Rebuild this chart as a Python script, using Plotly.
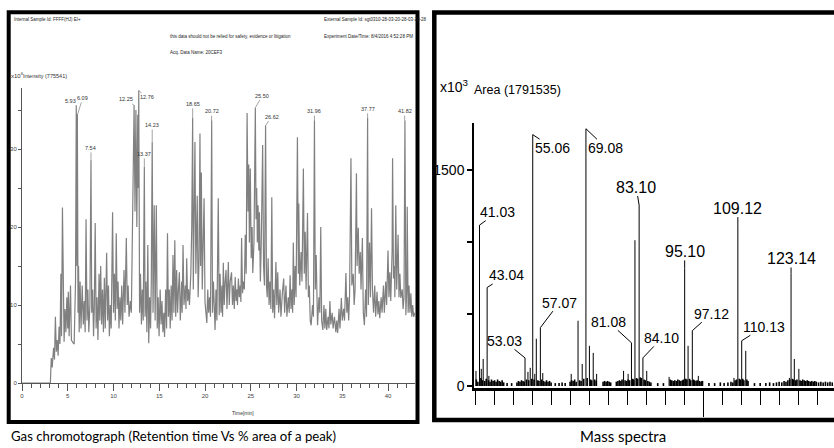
import plotly.graph_objects as go

W, H = 834, 448


def fx(p):
    return p / W


def fy(p):
    return 1 - p / H


# ---------------- Gas chromatogram (retention time, intensity x10^6) ----------------
rt = [
    0.0, 3.1, 3.2, 3.3, 3.45, 3.55, 3.65, 3.75, 3.85, 3.95,
    4.05, 4.15, 4.25, 4.32, 4.42, 4.52, 4.6, 4.7, 4.8, 4.9,
    5.0, 5.06, 5.15, 5.3, 5.4, 5.55, 5.7, 5.85, 5.93, 6.0,
    6.05, 6.12, 6.18, 6.25, 6.35, 6.45, 6.58, 6.7, 6.8, 6.9,
    7.0, 7.1, 7.2, 7.3, 7.42, 7.54, 7.62, 7.72, 7.82, 7.9,
    8.0, 8.1, 8.2, 8.3, 8.42, 8.5, 8.6, 8.7, 8.8, 8.9,
    9.0, 9.1, 9.25, 9.35, 9.45, 9.55, 9.65, 9.75, 9.9,
    10.0, 10.1, 10.2, 10.3, 10.4, 10.5, 10.6, 10.7, 10.8, 10.9,
    11.0, 11.15, 11.25, 11.4, 11.5, 11.6, 11.7, 11.85, 11.95,
    12.05, 12.15, 12.25, 12.35, 12.45, 12.55, 12.65, 12.7, 12.76, 12.85, 12.95,
    13.05, 13.15, 13.25, 13.37, 13.45, 13.55, 13.65, 13.75, 13.85, 13.95,
    14.05, 14.13, 14.23, 14.32, 14.45, 14.55, 14.68, 14.78, 14.88, 14.98,
    15.1, 15.2, 15.3, 15.4, 15.5, 15.58, 15.7, 15.8, 15.9,
    16.0, 16.1, 16.2, 16.3, 16.4, 16.5, 16.6, 16.7, 16.8, 16.9,
    17.0, 17.1, 17.2, 17.3, 17.45, 17.5, 17.6, 17.7, 17.85, 17.92,
    18.0, 18.1, 18.2, 18.3, 18.45, 18.55, 18.65, 18.72, 18.8, 18.9,
    19.0, 19.15, 19.25, 19.35, 19.45, 19.52, 19.6, 19.7, 19.8, 19.9,
    20.0, 20.1, 20.2, 20.3, 20.4, 20.5, 20.6, 20.73, 20.82, 20.92,
    21.0, 21.1, 21.2, 21.3, 21.45, 21.55, 21.65, 21.75, 21.85, 21.92,
    22.0, 22.1, 22.2, 22.3, 22.4, 22.55, 22.65, 22.75, 22.9,
    23.0, 23.1, 23.2, 23.3, 23.4, 23.5, 23.55, 23.65, 23.75, 23.85, 23.92,
    24.0, 24.1, 24.2, 24.3, 24.4, 24.5, 24.6, 24.7, 24.78, 24.85, 24.95,
    25.05, 25.15, 25.22, 25.35, 25.5, 25.58, 25.65, 25.72, 25.8, 25.88, 25.95,
    26.05, 26.15, 26.3, 26.4, 26.5, 26.62, 26.72, 26.8, 26.9,
    27.0, 27.1, 27.2, 27.3, 27.4, 27.5, 27.6, 27.75, 27.85, 27.95,
    28.05, 28.2, 28.3, 28.45, 28.6, 28.7, 28.85, 28.95,
    29.1, 29.2, 29.3, 29.4, 29.5, 29.58, 29.65, 29.75, 29.85, 29.95,
    30.1, 30.2, 30.25, 30.35, 30.5, 30.6, 30.75, 30.85, 30.95,
    31.05, 31.2, 31.3, 31.4, 31.5, 31.6, 31.75, 31.85, 31.96,
    32.05, 32.15, 32.3, 32.45, 32.55, 32.65, 32.75, 32.88,
    33.0, 33.1, 33.2, 33.3, 33.45, 33.55, 33.65, 33.75, 33.9,
    34.0, 34.15, 34.3, 34.4, 34.5, 34.65, 34.75, 34.9,
    35.0, 35.15, 35.25, 35.4, 35.5, 35.6, 35.7, 35.8, 35.95,
    36.05, 36.2, 36.3, 36.4, 36.55, 36.62, 36.75, 36.85, 36.97,
    37.05, 37.2, 37.3, 37.42, 37.55, 37.65, 37.77, 37.85, 37.98,
    38.08, 38.2, 38.3, 38.42, 38.55, 38.65, 38.8, 38.9,
    39.0, 39.1, 39.25, 39.35, 39.5, 39.6, 39.75, 39.85,
    40.0, 40.1, 40.2, 40.3, 40.45, 40.5, 40.6, 40.7, 40.75, 40.85, 40.95,
    41.1, 41.2, 41.3, 41.4, 41.55, 41.65, 41.75, 41.85, 41.95,
    42.05, 42.1, 42.2, 42.3, 42.4, 42.5, 42.6, 42.7, 42.8, 42.95,
]
intensity = [
    0, 0, 3.2, 2.0, 4.5, 3.0, 8.5, 4.0, 5.5, 3.5,
    7.2, 5.0, 14.0, 6.0, 22.5, 8.0, 5.3, 9.5, 6.5, 11.0,
    7.0, 11.7, 6.0, 12.5, 5.5, 5.2, 5.0, 13.0, 35.6, 15.0,
    34.5, 9.0, 15.0, 6.5, 13.0, 7.0, 12.5, 7.5, 10.5, 6.5,
    21.0, 8.0, 12.0, 6.5, 10.0, 28.6, 9.0, 12.0, 6.0, 9.5,
    20.5, 7.0, 11.0, 5.5, 14.0, 8.0, 15.0, 7.5, 12.0, 6.5,
    13.5, 7.0, 16.7, 8.0, 12.5, 6.0, 10.0, 7.0, 21.9,
    9.0, 14.0, 8.0, 19.2, 9.5, 13.0, 7.0, 11.0, 8.0, 12.5,
    7.5, 14.5, 9.0, 18.6, 10.0, 12.5, 8.5, 10.5, 9.0,
    17.0, 25.0, 35.6, 22.0, 35.0, 20.0, 34.4, 25.0, 37.5, 9.0, 14.0,
    7.5, 12.0, 8.0, 27.7, 8.5, 13.0, 6.5, 17.7, 5.1, 11.0,
    7.0, 13.0, 30.9, 9.0, 22.8, 8.0, 22.8, 7.0, 11.0, 6.0,
    12.0, 7.5, 10.5, 6.5, 9.0, 5.9, 12.0, 7.0, 19.2,
    8.5, 12.0, 7.0, 12.5, 8.0, 16.4, 9.0, 18.3, 8.5, 14.5,
    9.0, 12.0, 14.2, 8.0, 13.0, 9.0, 17.7, 10.0, 12.5, 9.5,
    16.0, 10.5, 12.0, 10.0, 14.0, 20.0, 34.0, 12.0, 22.0, 30.9,
    14.0, 24.0, 11.0, 16.0, 32.0, 15.0, 27.0, 12.0, 18.0, 23.7,
    10.4, 9.0, 7.7, 12.0, 9.0, 11.0, 8.5, 33.7, 9.0, 13.0,
    8.0, 6.8, 12.0, 8.0, 23.7, 8.7, 14.0, 9.0, 12.5, 8.5,
    15.4, 10.0, 13.0, 14.5, 9.5, 15.5, 10.0, 13.0, 14.2,
    10.0, 12.5, 9.5, 13.6, 10.5, 12.0, 10.0, 13.4, 11.0, 12.5, 10.4,
    18.6, 11.5, 13.0, 12.0, 19.0, 14.0, 34.6, 22.0, 28.0, 18.0, 27.5,
    16.0, 20.0, 14.1, 18.0, 35.3, 21.0, 25.0, 18.0, 22.8, 17.0, 21.9,
    13.0, 18.0, 30.5, 15.0, 12.5, 33.0, 12.5, 11.0, 16.0,
    10.0, 13.0, 9.5, 23.8, 9.0, 12.0, 8.3, 15.5, 10.0, 14.2,
    9.0, 12.0, 8.5, 11.5, 13.4, 9.0, 12.5, 8.5,
    11.0, 9.0, 13.8, 9.5, 12.0, 9.0, 18.0, 10.0, 15.0, 11.0,
    31.5, 14.0, 23.0, 12.5, 16.8, 13.0, 27.5, 14.0, 19.4,
    12.0, 21.8, 11.0, 12.5, 8.0, 7.4, 10.0, 8.5, 33.7,
    12.0, 16.4, 7.4, 11.0, 9.0, 20.0, 8.0, 6.8,
    10.0, 7.0, 9.5, 6.8, 8.5, 7.0, 10.5, 7.5, 9.0,
    7.0, 8.5, 6.5, 8.0, 6.4, 9.5, 7.0, 10.9,
    8.0, 9.5, 8.0, 14.1, 9.0, 11.0, 8.0, 11.3, 28.8,
    12.5, 14.0, 10.0, 12.0, 26.9, 15.0, 19.9, 14.0, 16.8,
    12.0, 18.6, 9.0, 7.4, 12.0, 8.5, 34.0, 10.0, 18.0,
    11.0, 22.4, 12.0, 9.0, 12.5, 8.5, 11.7, 8.8,
    10.5, 8.3, 11.0, 9.0, 12.5, 9.0, 13.0, 10.0,
    17.0, 11.0, 14.2, 10.5, 17.0, 28.8, 13.4, 15.0, 11.0, 22.8, 12.0,
    19.0, 11.0, 14.0, 10.9, 12.0, 9.5, 11.0, 33.7, 8.7,
    12.0, 22.6, 9.0, 12.5, 9.0, 11.5, 8.5, 10.0, 8.5, 9.0,
]

gc_label_rt = [5.93, 6.09, 7.54, 12.25, 12.76, 13.37, 14.23, 18.65, 20.72,
               25.50, 26.62, 31.96, 37.77, 41.82]
gc_label_text = ["5.93", "6.09", "7.54", "12.25", "12.76", "13.37", "14.23", "18.65",
                 "20.72", "25.50", "26.62", "31.96", "37.77", "41.82"]
# pixel offsets of each label from its peak (style only)
gc_label_off = [(-6, -4), (5, -16), (0, -12), (-8, -6), (8, 7), (0, -13), (0, -17),
                (0, -14), (0, -9), (7, -12), (6, -9), (0, -9), (0, -9), (0, -9)]

gc_x_ticks = [0, 5, 10, 15, 20, 25, 30, 35, 40]
gc_y_ticks = [0, 10, 20, 30]

# ---------------- Mass spectrum (m/z, area x10^3) ----------------
ms_peak_mz = [40.1, 41.03, 41.5, 42.0, 43.04, 43.5, 53.03, 53.8, 54.4, 55.06, 55.6, 56.0,
              57.07, 57.7, 65.2, 67.0, 68.1, 69.08, 70.0, 71.0, 71.9, 79.0, 80.2, 81.08,
              82.0, 83.10, 84.10, 85.1, 91.0, 95.10, 96.0, 97.12, 98.7, 99.6, 108.1,
              109.12, 110.13, 111.2, 122.7, 123.14, 124.0, 125.2]
ms_peak_area = [105, 1117, 119, 188, 684, 70, 195, 98, 126, 1745, 84, 328,
                405, 90, 84, 453, 153, 1786, 279, 230, 84, 105, 84, 300,
                1012, 1256, 195, 105, 63, 816, 279, 384, 70, 35, 56,
                1117, 314, 244, 56, 781, 188, 119]

ms_noise_mz = (
    [40.2, 40.6, 41.4, 41.8, 42.4, 42.8, 43.4, 43.8, 44.2, 44.6, 45.0, 45.4, 45.8, 46.2,
     46.6, 47.0, 47.4, 48.3, 49.5]
    + [50.9, 51.3, 51.7, 52.1, 52.5, 52.8, 53.4, 54.0, 54.8, 55.4, 56.4, 56.7, 57.4, 57.9,
       58.3, 58.7, 59.1, 59.5, 59.9]
    + [61.0, 62.0, 62.8, 63.6, 64.9, 65.3, 65.7, 66.1, 66.5, 67.4, 67.8, 68.5, 69.4, 70.3,
       70.6, 71.4, 71.8]
    + [73.6, 74.0, 74.4, 74.8, 75.2, 75.6, 77.1, 77.5, 77.9, 78.3, 78.6, 79.4, 79.8, 80.2,
       80.6, 81.4, 81.7, 82.4, 82.7, 83.4, 83.7, 84.4, 84.7, 85.4, 85.8, 86.2]
    + [88.0, 89.5, 91.3, 91.7, 92.1, 92.5, 92.9, 93.3, 93.7, 94.1, 94.5, 94.8, 95.4, 95.7,
       96.4, 96.7, 97.4, 97.7, 98.1, 98.4, 99.0, 99.4, 99.8]
    + [101.5, 103.0, 104.5, 105.5, 106.5, 107.3, 107.8, 108.4, 108.8, 109.5, 109.8, 110.4,
       110.7, 111.5, 111.8]
    + [113.5, 115.0, 116.5, 117.5, 118.5, 119.3, 120.0, 120.7, 121.3, 121.8, 122.3, 122.8,
       123.5, 123.8, 124.4, 124.7, 125.5, 125.8, 126.2, 126.6, 127.0, 127.4, 127.8, 128.2,
       128.6, 129.0, 129.4, 129.8, 130.4, 131.0, 131.6, 132.2, 132.8, 133.4, 134.0]
)
ms_noise_area = (
    [45, 30, 55, 40, 35, 50, 40, 30, 45, 35, 40, 30, 45, 35, 30, 40, 25, 20, 20]
    + [25, 35, 30, 40, 35, 30, 45, 40, 50, 45, 40, 35, 45, 35, 30, 40, 30, 35, 25]
    + [20, 20, 25, 20, 30, 40, 35, 45, 30, 40, 35, 50, 55, 45, 40, 45, 35]
    + [30, 35, 30, 35, 30, 25, 30, 35, 40, 35, 45, 40, 35, 45, 40, 50, 45, 55, 50, 60,
       55, 45, 40, 35, 30, 25]
    + [20, 20, 45, 40, 35, 40, 35, 45, 40, 35, 40, 45, 50, 45, 50, 40, 45, 40, 35, 40,
       35, 30, 35]
    + [20, 20, 25, 20, 25, 30, 25, 40, 45, 50, 45, 50, 40, 45, 35]
    + [20, 20, 20, 25, 20, 25, 30, 25, 35, 30, 40, 45, 50, 45, 40, 45, 40, 35, 45, 40,
       35, 40, 35, 30, 35, 30, 35, 30, 25, 30, 25, 30, 25, 30, 25]
)

ms_label_mz = [41.03, 43.04, 53.03, 55.06, 57.07, 69.08, 81.08, 83.10, 84.10, 95.10,
               97.12, 109.12, 110.13, 123.14]
# label offsets (px) and sizes: style only
ms_label_off = [(18, -13), (19, -12), (-21, -17), (20, 13), (19, -25), (20, 19), (-23, -21),
                (-3, -18), (19, -20), (0, -17), (19, -17), (0, -17), (22, -14), (0, -15)]
ms_label_big = [False, False, False, False, False, False, False, True, False, True,
                False, True, False, True]
ms_y_labelled = [0, 1500]
ms_y_unlabelled = [500, 1000]

SANS = "Liberation Sans, Arial, sans-serif"

fig = go.Figure()

fig.add_trace(go.Scatter(x=rt, y=intensity, mode="lines",
                         line=dict(color="#808080", width=1.2),
                         xaxis="x", yaxis="y", hoverinfo="skip"))


def sticks(mz, h):
    xs, ys = [], []
    for m, v in zip(mz, h):
        xs += [m, m, None]
        ys += [0, v, None]
    return xs, ys


nx, ny = sticks(ms_noise_mz, ms_noise_area)
fig.add_trace(go.Scatter(x=nx, y=ny, mode="lines", line=dict(color="black", width=1.6),
                         xaxis="x2", yaxis="y2", hoverinfo="skip"))
sx, sy = sticks(ms_peak_mz, ms_peak_area)
fig.add_trace(go.Scatter(x=sx, y=sy, mode="lines", line=dict(color="black", width=1),
                         xaxis="x2", yaxis="y2", hoverinfo="skip"))

annotations = []

# chromatogram peak labels
for t, txt, (ax, ay) in zip(gc_label_rt, gc_label_text, gc_label_off):
    near = [v for r, v in zip(rt, intensity) if abs(r - t) <= 0.06]
    h = max(near) if near else 0
    annotations.append(dict(x=t, y=h, xref="x", yref="y", text=txt, showarrow=True,
                            arrowhead=0, arrowwidth=0.6, arrowcolor="#666", ax=ax, ay=ay,
                            standoff=0, font=dict(size=5.5, color="#333", family=SANS)))

# mass spectrum peak labels
for m, (ax, ay), big in zip(ms_label_mz, ms_label_off, ms_label_big):
    h = max(v for mm, v in zip(ms_peak_mz, ms_peak_area) if abs(mm - m) < 0.01)
    annotations.append(dict(x=m, y=h, xref="x2", yref="y2", text=f"{m:.2f}", showarrow=True,
                            arrowhead=0, arrowwidth=1, arrowcolor="black", ax=ax, ay=ay,
                            standoff=0, borderpad=0,
                            font=dict(size=16 if big else 14, color="black", family=SANS)))

small = dict(size=4.5, color="#222", family=SANS)
header = [
    (12, 20, "Internal Sample Id: FFFF(HJ) EI+"),
    (168, 36, "this data should not be relied for safety, evidence or litigation"),
    (168, 52, "Acq. Data Name: 20CEF3"),
    (322, 20, "External Sample Id: sgt0310-28-03-20-28-03-20-28"),
    (322, 36, "Experiment Date/Time: 8/4/2016 4:52:28 PM"),
]
for x0, y0, txt in header:
    annotations.append(dict(x=fx(x0), y=fy(y0), xref="paper", yref="paper", text=txt,
                            showarrow=False, xanchor="left", yanchor="middle", font=small))

annotations += [
    dict(x=fx(9), y=fy(75), xref="paper", yref="paper", text="x10<sup>6</sup>", showarrow=False,
         xanchor="left", yanchor="middle", font=dict(size=6, color="#333", family=SANS)),
    dict(x=fx(21), y=fy(76), xref="paper", yref="paper", text="Intensity (775541)",
         showarrow=False, xanchor="left", yanchor="middle",
         font=dict(size=5.5, color="#333", family=SANS)),
    dict(x=fx(243), y=fy(413), xref="paper", yref="paper", text="Time[min]", showarrow=False,
         xanchor="center", yanchor="middle", font=dict(size=5, color="#333", family=SANS)),
    dict(x=fx(438), y=fy(86), xref="paper", yref="paper", text="x10<sup>3</sup>",
         showarrow=False, xanchor="left", yanchor="middle",
         font=dict(size=14, color="black", family=SANS)),
    dict(x=fx(472), y=fy(90), xref="paper", yref="paper", text="Area (1791535)",
         showarrow=False, xanchor="left", yanchor="middle",
         font=dict(size=12.5, color="black", family=SANS)),
    dict(x=fx(9), y=fy(436), xref="paper", yref="paper",
         text="Gas chromotograph (Retention time Vs % area of a peak)", showarrow=False,
         xanchor="left", yanchor="middle", font=dict(size=13.2, color="black", family="Lato")),
    dict(x=fx(623), y=fy(436), xref="paper", yref="paper", text="Mass spectra",
         showarrow=False, xanchor="center", yanchor="middle",
         font=dict(size=15, color="black", family="Lato")),
]

shapes = [
    dict(type="rect", xref="paper", yref="paper", x0=fx(8.7), x1=fx(417.5), y0=fy(422),
         y1=fy(12.2), line=dict(color="black", width=4), layer="above"),
    dict(type="rect", xref="paper", yref="paper", x0=fx(434.3), x1=fx(845), y0=fy(420),
         y1=fy(12.5), line=dict(color="black", width=4.5), layer="above"),
]

fig.update_layout(
    width=W, height=H, margin=dict(l=0, r=0, t=0, b=0, autoexpand=False),
    paper_bgcolor="white", plot_bgcolor="white", showlegend=False,
    annotations=annotations, shapes=shapes,
    xaxis=dict(domain=[fx(22), fx(415)], range=[0, 42.95], anchor="y",
               showgrid=False, zeroline=False, showline=True, linecolor="#555", linewidth=1,
               tickvals=gc_x_ticks, ticks="outside", ticklen=7, tickcolor="#555", tickwidth=1,
               tickfont=dict(size=6, color="#444", family=SANS),
               minor=dict(dtick=1, tick0=0, ticklen=4, ticks="outside", tickcolor="#555",
                          showgrid=False)),
    yaxis=dict(domain=[fy(383), fy(88)], range=[0, 37.82], anchor="x",
               showgrid=False, zeroline=False, showline=True, linecolor="#555", linewidth=1,
               tickvals=gc_y_ticks, ticks="outside", ticklen=3, tickcolor="#555", tickwidth=1,
               tickfont=dict(size=6, color="#444", family=SANS),
               minor=dict(dtick=5, tick0=0, ticklen=3, ticks="outside", tickcolor="#555",
                          showgrid=False)),
    xaxis2=dict(domain=[fx(474), 1], range=[39.58, 134.46], anchor="y2",
                showgrid=False, zeroline=False, showline=True, linecolor="black", linewidth=2.5,
                tick0=0, dtick=100, ticks="outside", ticklen=26, tickcolor="black", tickwidth=1.2,
                showticklabels=False,
                minor=dict(tick0=0, dtick=5, ticklen=14, ticks="outside", tickcolor="black",
                           tickwidth=1.2, showgrid=False)),
    yaxis2=dict(domain=[fy(388), fy(123)], range=[-14, 1826], anchor="x2",
                showgrid=False, zeroline=False, showline=True, linecolor="black", linewidth=1.5,
                tickvals=ms_y_labelled, ticks="outside", ticklen=5,
                tickcolor="black", tickwidth=2,
                tickfont=dict(size=14, color="black", family=SANS),
                minor=dict(tickvals=ms_y_unlabelled, ticks="outside", ticklen=5,
                           tickcolor="black", tickwidth=2, showgrid=False)),
)

fig.write_html("out.html", config={"displayModeBar": False},
               post_script="document.body.style.margin='0';")
